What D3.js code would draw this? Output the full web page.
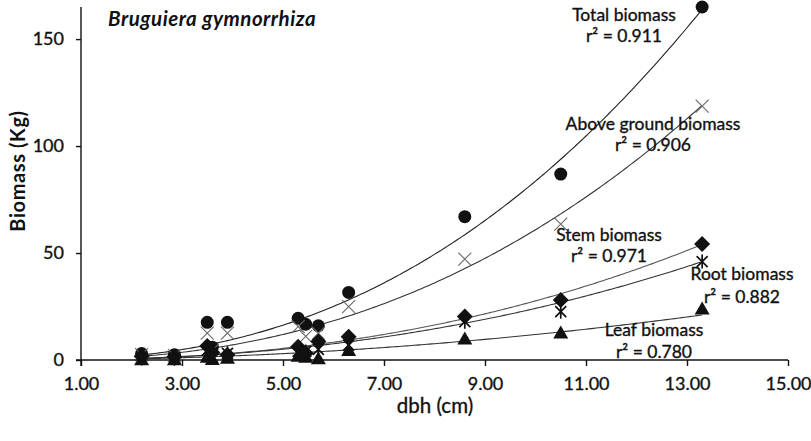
<!DOCTYPE html>
<html>
<head>
<meta charset="utf-8">
<script src="https://cdn.jsdelivr.net/npm/d3@7"></script>
<style>
  html, body { margin: 0; padding: 0; background: #fff; }
  svg text { font-family: Lato, "Open Sans", sans-serif; fill: #111; }
  .heavy { stroke: #111; stroke-width: 0.35px; }
</style>
</head>
<body>
<svg id="chart" width="811" height="441"></svg>
<script>
// ---- data ----
const dbh        = [2.2, 2.85, 3.5, 3.6, 3.9, 5.3, 5.45, 5.7, 6.3, 8.6, 10.5, 13.3];
const totalBio   = [3.0, 2.5, 17.6, 6.0, 17.6, 19.5, 16.7, 16.0, 31.6, 67.0, 86.9, 165.0];
const aboveBio   = [2.5, 2.0, 12.6, 4.5, 12.6, 15.6, 11.0, 12.5, 24.9, 47.2, 63.5, 118.7];
const stemBio    = [1.8, 1.5, 6.5, 3.5, 2.5, 6.2, 3.1, 8.6, 10.9, 20.3, 28.0, 54.2];
const rootBio    = [0.7, 0.6, 4.5, 1.5, 3.1, 4.0, 4.0, 5.0, 7.0, 17.9, 22.6, 46.0];
const leafBio    = [0.3, 0.3, 1.5, 0.5, 1.0, 2.0, 1.5, 0.8, 4.7, 10.1, 12.8, 24.1];
// power trendlines y = a * x^b
const seriesNames = ["Total biomass", "Above ground biomass", "Stem biomass", "Root biomass", "Leaf biomass"];
const trendA     = [0.365, 0.272, 0.1234, 0.1326, 0.119];
const trendB     = [2.36, 2.35, 2.35, 2.26, 2.0];
const r2Labels   = ["r\u00b2 = 0.911", "r\u00b2 = 0.906", "r\u00b2 = 0.971", "r\u00b2 = 0.882", "r\u00b2 = 0.780"];
const xTicks     = [1, 3, 5, 7, 9, 11, 13, 15];
const yTicks     = [0, 50, 100, 150];
const title      = "Bruguiera gymnorrhiza";

// ---- layout ----
const svg = d3.select("#chart");
const x = d3.scaleLinear().domain([1, 15]).range([81, 788]);
const y = d3.scaleLinear().domain([0, 165]).range([360, 7]);

const allSeries = [totalBio, aboveBio, stemBio, rootBio, leafBio];

// trendlines
const line = d3.line().x(d => x(d[0])).y(d => y(d[1]));
const xMin = d3.min(dbh), xMax = d3.max(dbh);
const xs = d3.range(xMin, xMax + 1e-9, 0.05).concat([xMax]);
const lineColors = ["#222", "#333", "#555", "#333", "#333"];
allSeries.forEach((s, i) => {
  const pts = xs.map(v => [v, trendA[i] * Math.pow(v, trendB[i])]);
  svg.append("path").attr("d", line(pts))
    .attr("fill", "none").attr("stroke", lineColors[i]).attr("stroke-width", 1.1);
});

// markers
const g = svg.append("g");
// total: circles
g.selectAll(".tot").data(dbh).join("circle")
  .attr("cx", d => x(d)).attr("cy", (d, i) => y(totalBio[i])).attr("r", 6.5)
  .attr("fill", "#111");
// above ground: gray X
g.selectAll(".agb").data(dbh).join("path")
  .attr("transform", (d, i) => `translate(${x(d)},${y(aboveBio[i])})`)
  .attr("d", "M-6.5,-6.5L6.5,6.5M-6.5,6.5L6.5,-6.5")
  .attr("stroke", "#6a6a6a").attr("stroke-width", 1.1).attr("fill", "none");
// stem: diamonds
g.selectAll(".stem").data(dbh).join("path")
  .attr("transform", (d, i) => `translate(${x(d)},${y(stemBio[i])})`)
  .attr("d", "M0,-8L8,0L0,8L-8,0Z")
  .attr("fill", "#111");
// root: asterisk
g.selectAll(".root").data(dbh).join("path")
  .attr("transform", (d, i) => `translate(${x(d)},${y(rootBio[i])})`)
  .attr("d", "M-5.5,-5.5L5.5,5.5M-5.5,5.5L5.5,-5.5M0,-7L0,7")
  .attr("stroke", "#111").attr("stroke-width", 1.7).attr("fill", "none");
// leaf: triangles
g.selectAll(".leaf").data(dbh).join("path")
  .attr("transform", (d, i) => `translate(${x(d)},${y(leafBio[i])})`)
  .attr("d", "M0,-7L7.5,6L-7.5,6Z")
  .attr("fill", "#111");

// axes
const xAxis = d3.axisBottom(x).tickValues(xTicks).tickFormat(d3.format(".2f")).tickSize(6).tickSizeOuter(0);
const gx = svg.append("g").attr("transform", `translate(0,${y(0)})`).call(xAxis);
gx.select(".domain").attr("stroke", "#111").attr("stroke-width", 1.4).attr("d", `M76,0H${x(15)}`);
gx.selectAll(".tick line").attr("stroke", "#111").attr("stroke-width", 1.4);
gx.selectAll(".tick text").attr("dy", 0).attr("y", 30).style("font-size", "18px").attr("fill", "#111").classed("heavy", true);

const yAxis = d3.axisLeft(y).tickValues(yTicks).tickSize(5).tickSizeOuter(0);
const gy = svg.append("g").attr("transform", `translate(${x(1)},0)`).call(yAxis);
gy.select(".domain").attr("stroke", "#111").attr("stroke-width", 1.4).attr("d", `M0,${y(165)}V366`);
gy.selectAll(".tick line").attr("stroke", "#111").attr("stroke-width", 1.4);
gy.selectAll(".tick text").attr("x", -17).style("font-size", "18px").attr("fill", "#111").classed("heavy", true);

// axis titles
svg.append("text").attr("x", 435).attr("y", 413).attr("text-anchor", "middle").classed("heavy", true)
  .style("font-size", "20.5px").text("dbh (cm)");
svg.append("text").attr("transform", "translate(25,171) rotate(-90)").attr("text-anchor", "middle")
  .style("font-size", "20px").style("font-weight", "bold").style("letter-spacing", "0.6px").text("Biomass (Kg)");

// title
svg.append("text").attr("x", 108).attr("y", 26)
  .style("font-size", "20.5px").style("font-weight", "bold").style("font-style", "italic")
  .style("letter-spacing", "0.5px").text(title);

// series labels
const labelPos = [[624, 21, 42], [653, 130, 151], [609, 241, 262], [742, 280, 303], [654, 336, 358]];
labelPos.forEach((p, i) => {
  svg.append("text").attr("x", p[0]).attr("y", p[1]).attr("text-anchor", "middle").classed("heavy", true)
    .style("font-size", "17.5px").text(seriesNames[i]);
  svg.append("text").attr("x", p[0]).attr("y", p[2]).attr("text-anchor", "middle").classed("heavy", true)
    .style("font-size", "17.5px").text(r2Labels[i]);
});
</script>
</body>
</html>
